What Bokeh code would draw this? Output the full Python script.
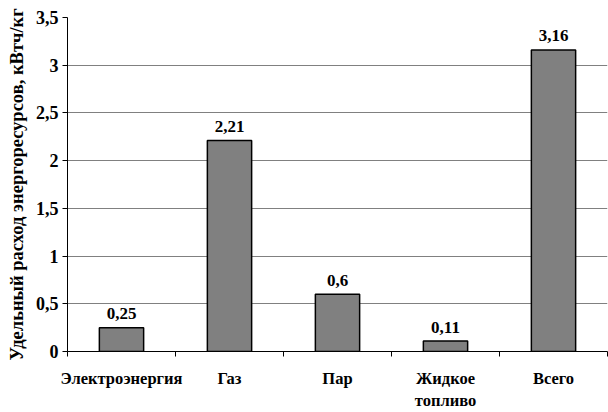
from bokeh.plotting import figure
from bokeh.models import FixedTicker, Range1d, ColumnDataSource, LinearAxis
from bokeh.embed import file_html
from bokeh.resources import INLINE
from bokeh.core.properties import value

categories = ["Электроэнергия", "Газ", "Пар", "Жидкое топливо", "Всего"]
values = [0.25, 2.21, 0.6, 0.11, 3.16]
y_ticks = [0, 0.5, 1, 1.5, 2, 2.5, 3, 3.5]
y_tick_labels = ["0", "0,5", "1", "1,5", "2", "2,5", "3", "3,5"]
y_title = "Удельный расход энергоресурсов, кВтч/кг"

FONT = "Liberation Serif"
xs = [i + 0.5 for i in range(len(categories))]
labels = [("%g" % v).replace(".", ",") for v in values]

p = figure(width=608, height=412, output_backend="svg", toolbar_location=None,
           x_range=Range1d(0, len(categories)), y_range=Range1d(0, 3.5),
           min_border_left=67, min_border_right=1, min_border_top=17, min_border_bottom=60)
p.outline_line_color = None
p.background_fill_color = "white"
p.border_fill_color = "white"

src = ColumnDataSource(dict(x=xs, top=values, label=labels))
p.vbar(x="x", top="top", width=0.41, bottom=0, source=src,
       fill_color="#808080", line_color="black", line_width=1.5)
p.text(x="x", y="top", text="label", source=src, text_align="center",
       text_baseline="alphabetic", y_offset=-14, text_font=value(FONT),
       text_font_style="bold", text_font_size="17px", text_color="black")

# x axis: first line of each category label
first_lines = [c.split(" ")[0] for c in categories]
p.xaxis.ticker = FixedTicker(ticks=xs, minor_ticks=list(range(len(categories) + 1)))
p.xaxis.major_label_overrides = {x: c for x, c in zip(xs, first_lines)}
p.xaxis.major_tick_out = 0
p.xaxis.major_tick_in = 0
p.xaxis.minor_tick_out = 5
p.xaxis.minor_tick_in = 0
p.xaxis.minor_tick_line_color = "black"
p.xaxis.axis_line_color = "black"
p.xaxis.major_label_text_font = FONT
p.xaxis.major_label_text_font_style = "bold"
p.xaxis.major_label_text_font_size = "16.5px"
p.xaxis.major_label_text_color = "black"
p.xaxis.major_label_standoff = 12

# second line of wrapped category labels
second = {x: " ".join(c.split(" ")[1:]) for x, c in zip(xs, categories) if " " in c}
ax2 = LinearAxis(ticker=FixedTicker(ticks=list(second.keys()), minor_ticks=[]),
                 major_label_overrides=second)
ax2.axis_line_color = None
ax2.major_tick_out = 0
ax2.major_tick_in = 0
ax2.minor_tick_out = 0
ax2.minor_tick_in = 0
ax2.major_label_text_font = FONT
ax2.major_label_text_font_style = "bold"
ax2.major_label_text_font_size = "16.5px"
ax2.major_label_text_color = "black"
ax2.major_label_standoff = 0
p.add_layout(ax2, "below")

# y axis
p.yaxis.ticker = FixedTicker(ticks=y_ticks)
p.yaxis.major_label_overrides = {t: l for t, l in zip(y_ticks, y_tick_labels)}
p.yaxis.major_tick_out = 5
p.yaxis.major_tick_in = 0
p.yaxis.minor_tick_out = 0
p.yaxis.minor_tick_in = 0
p.yaxis.axis_line_color = "black"
p.yaxis.major_tick_line_color = "black"
p.yaxis.major_label_text_font = FONT
p.yaxis.major_label_text_font_style = "bold"
p.yaxis.major_label_text_font_size = "18px"
p.yaxis.major_label_text_color = "black"
p.yaxis.major_label_standoff = 4
p.yaxis.axis_label = y_title
p.yaxis.axis_label_text_font = FONT
p.yaxis.axis_label_text_font_style = "bold"
p.yaxis.axis_label_text_font_size = "18.5px"
p.yaxis.axis_label_text_color = "black"
p.yaxis.axis_label_standoff = 6

p.xgrid.grid_line_color = None
p.ygrid.grid_line_color = "#808080"
p.ygrid.grid_line_width = 1

open("out.html", "w").write(file_html(p, INLINE))
